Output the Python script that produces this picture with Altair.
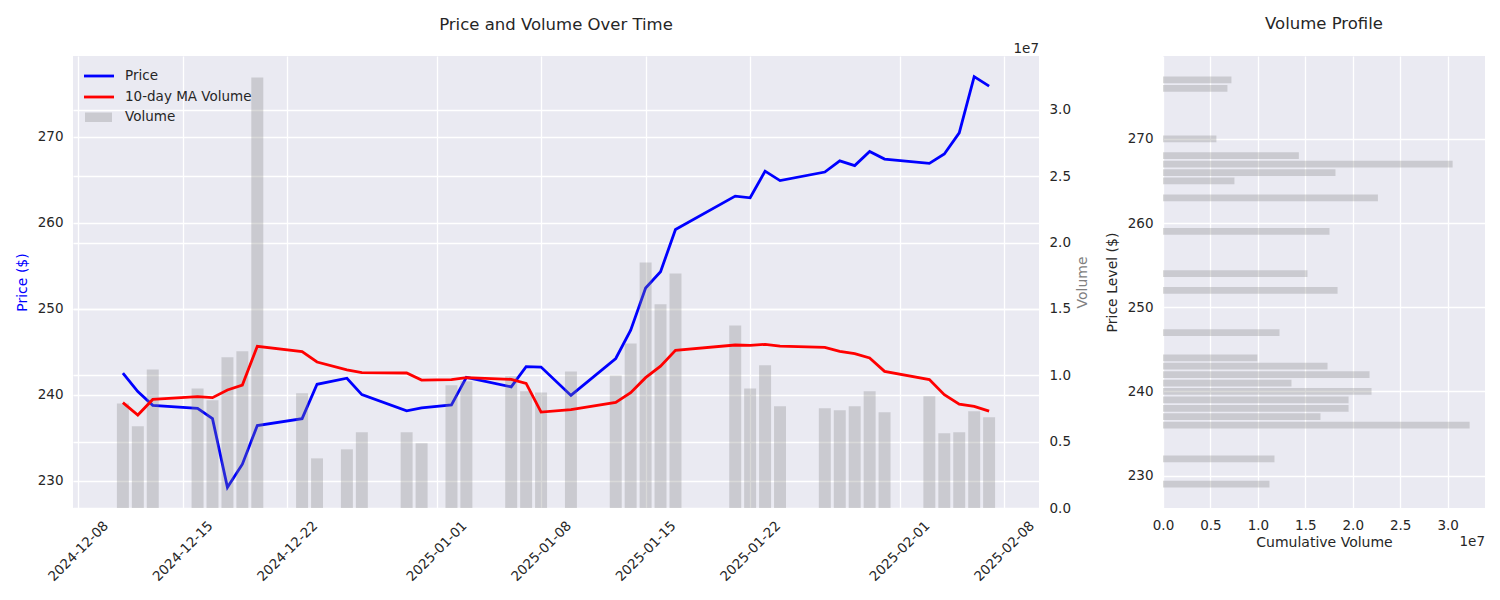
import altair as alt
import pandas as pd

# ---------------- data ----------------
dates = ["2024-12-11", "2024-12-12", "2024-12-13", "2024-12-16", "2024-12-17",
         "2024-12-18", "2024-12-19", "2024-12-20", "2024-12-23", "2024-12-24",
         "2024-12-26", "2024-12-27", "2024-12-30", "2024-12-31", "2025-01-02",
         "2025-01-03", "2025-01-06", "2025-01-07", "2025-01-08", "2025-01-10",
         "2025-01-13", "2025-01-14", "2025-01-15", "2025-01-16", "2025-01-17",
         "2025-01-21", "2025-01-22", "2025-01-23", "2025-01-24", "2025-01-27",
         "2025-01-28", "2025-01-29", "2025-01-30", "2025-01-31", "2025-02-03",
         "2025-02-04", "2025-02-05", "2025-02-06", "2025-02-07"]
price = [242.5, 240.35, 238.75, 238.4, 237.2, 229.2, 231.9, 236.4, 237.2, 241.2,
         241.9, 240.0, 238.1, 238.45, 238.8, 242.0, 240.9, 243.25, 243.2, 239.9,
         244.2, 247.5, 252.4, 254.3, 259.2, 263.1, 262.9, 266.0, 264.9, 265.9,
         267.2, 266.65, 268.3, 267.4, 266.9, 268.0, 270.45, 277.0, 275.9]
volume_m = [7.88, 6.15, 10.44, 9.01, 8.11, 11.35, 11.80, 32.43, 8.64, 3.74,
            4.42, 5.70, 5.70, 4.87, 9.24, 9.54, 9.92, 8.79, 8.71, 10.29,
            9.99, 12.40, 18.50, 15.34, 17.67, 13.75, 9.01, 10.75, 7.66, 7.51,
            7.36, 7.66, 8.79, 7.21, 8.41, 5.63, 5.70, 7.28, 6.83]
ma_volume_m = [7.94, 7.00, 8.18, 8.39, 8.31, 8.89, 9.26, 12.18, 11.78, 11.00,
               10.40, 10.20, 10.17, 9.64, 9.67, 9.82, 9.69, 9.39, 7.23, 7.41,
               7.96, 8.69, 9.82, 10.69, 11.88, 12.28, 12.25, 12.33, 12.20, 12.10,
               11.80, 11.63, 11.30, 10.29, 9.67, 8.54, 7.83, 7.66, 7.30]

profile_levels = [277, 276, 270, 268, 267, 266, 265, 263, 259, 254, 252, 247,
                  244, 243, 242, 241, 240, 239, 238, 237, 236, 232, 229]
profile_volume_m = [7.21, 6.79, 5.63, 14.32, 30.53, 18.18, 7.53, 22.65, 17.55,
                    15.23, 18.40, 12.28, 9.95, 17.34, 21.77, 13.54, 21.98, 19.56,
                    19.56, 16.60, 32.32, 11.75, 11.22]

date_ticks = [(2024, 12, 8), (2024, 12, 15), (2024, 12, 22), (2025, 1, 1),
              (2025, 1, 8), (2025, 1, 15), (2025, 1, 22), (2025, 2, 1), (2025, 2, 8)]
price_ticks = [230, 240, 250, 260, 270]
volume_ticks = [0, 5e6, 1e7, 1.5e7, 2e7, 2.5e7, 3e7]

# ---------------- styling ----------------
FONT = "DejaVu Sans"
TEXT = "#262626"
BG = "#EAEAF2"
BAR = "gray"
W_LEFT, W_RIGHT, H = 966, 322, 452
LW = 2.8
FS_TICK = 13.5

# ---------------- tables ----------------
ts = pd.to_datetime(dates)
fmt = "%Y-%m-%dT%H:%M:%SZ"
df = pd.DataFrame({
    "date": [t.strftime(fmt) for t in ts],
    "start": [(t - pd.Timedelta(hours=9.6)).strftime(fmt) for t in ts],
    "end": [(t + pd.Timedelta(hours=9.6)).strftime(fmt) for t in ts],
    "price": price,
    "volume": [v * 1e6 for v in volume_m],
    "ma": [v * 1e6 for v in ma_volume_m],
    "zero": [0.0] * len(dates),
})

prof = pd.DataFrame({
    "level": profile_levels,
    "cum": [v * 1e6 for v in profile_volume_m],
})
prof["lo"] = prof["level"] - 0.4
prof["hi"] = prof["level"] + 0.4
prof["zero"] = 0.0

x_scale = alt.Scale(
    type="utc", nice=False,
    domain=[alt.DateTime(year=2024, month=12, date=7, hours=15, minutes=50, utc=True),
            alt.DateTime(year=2025, month=2, date=10, hours=8, minutes=10, utc=True)])
x_axis = alt.Axis(
    values=[alt.DateTime(year=y, month=m, date=d, utc=True) for (y, m, d) in date_ticks],
    labelExpr="utcFormat(datum.value, '%Y-%m-%d')",
    labelAngle=-45, labelAlign="center", labelBaseline="middle",
    labelPadding=43, labelFlush=False, labelOverlap=False, title=None,
    grid=True)


def xenc(field):
    return alt.X(f"{field}:T", scale=x_scale, axis=x_axis)


price_line = alt.Chart(df).mark_line(color="blue", strokeWidth=LW).encode(
    x=xenc("date"),
    y=alt.Y("price:Q",
            scale=alt.Scale(domain=[226.8, 279.4], nice=False, zero=False),
            axis=alt.Axis(orient="left", values=price_ticks, title="Price ($)",
                          titleColor="blue", grid=True, titlePadding=8)),
)

vol_scale = alt.Scale(domain=[0, 3.405e7], nice=False)
vol_axis = alt.Axis(orient="right", values=volume_ticks, title="Volume",
                    titleColor="gray", titleAngle=270, titleBaseline="top",
                    grid=True, labelExpr="format(datum.value / 1e7, '.1f')",
                    titlePadding=5)

vol_bars = alt.Chart(df).mark_rect(color=BAR, opacity=0.3).encode(
    x=xenc("start"), x2="end:T",
    y=alt.Y("volume:Q", scale=vol_scale, axis=vol_axis), y2="zero:Q",
)
ma_line = alt.Chart(df).mark_line(color="red", strokeWidth=LW).encode(
    x=xenc("date"),
    y=alt.Y("ma:Q", scale=vol_scale, axis=vol_axis),
)

one = alt.Data(values=[{"k": 1}])
leg_price = alt.Chart(one).mark_rule(color="blue", strokeWidth=LW).encode(
    x=alt.value(11), x2=alt.value(41), y=alt.value(20))
leg_ma = alt.Chart(one).mark_rule(color="red", strokeWidth=LW).encode(
    x=alt.value(11), x2=alt.value(41), y=alt.value(41))
leg_vol = alt.Chart(one).mark_rect(color=BAR, opacity=0.3).encode(
    x=alt.value(12), x2=alt.value(39), y=alt.value(56.5), y2=alt.value(66))
leg_text_style = dict(align="left", baseline="middle", font=FONT, fontSize=FS_TICK, color=TEXT)
leg_t1 = alt.Chart(one).mark_text(text="Price", **leg_text_style).encode(
    x=alt.value(52), y=alt.value(20))
leg_t2 = alt.Chart(one).mark_text(text="10-day MA Volume", **leg_text_style).encode(
    x=alt.value(52), y=alt.value(41))
leg_t3 = alt.Chart(one).mark_text(text="Volume", **leg_text_style).encode(
    x=alt.value(52), y=alt.value(61))
exp_left = alt.Chart(one).mark_text(text="1e7", align="right", baseline="middle",
                                    font=FONT, fontSize=FS_TICK, color=TEXT).encode(
    x=alt.value(W_LEFT), y=alt.value(-7))

vol_layer = alt.layer(vol_bars, ma_line, leg_price, leg_ma, leg_vol,
                      leg_t1, leg_t2, leg_t3, exp_left)

left = alt.layer(price_line, vol_layer).resolve_scale(y="independent").properties(
    width=W_LEFT, height=H,
    title=alt.Title("Price and Volume Over Time", offset=9),
)

prof_x_scale = alt.Scale(domain=[0, 3.394e7], nice=False)
prof_bars = alt.Chart(prof).mark_rect(color=BAR, opacity=0.3).encode(
    x=alt.X("cum:Q", scale=prof_x_scale,
            axis=alt.Axis(values=volume_ticks, title="Cumulative Volume",
                          labelExpr="format(datum.value / 1e7, '.1f')",
                          grid=True, labelFlush=False, titlePadding=4)),
    x2="zero:Q",
    y=alt.Y("lo:Q", scale=alt.Scale(domain=[226.16, 279.84], nice=False, zero=False),
            axis=alt.Axis(values=price_ticks, title="Price Level ($)", grid=True,
                          titlePadding=8)),
    y2="hi:Q",
)
exp_right = alt.Chart(one).mark_text(text="1e7", align="right", baseline="middle",
                                     font=FONT, fontSize=FS_TICK, color=TEXT).encode(
    x=alt.value(W_RIGHT), y=alt.value(H + 34))

right = alt.layer(prof_bars, exp_right).properties(
    width=W_RIGHT, height=H,
    title=alt.Title("Volume Profile", offset=24),
)

chart = alt.hconcat(left, right, spacing=15).properties(
    padding={"left": 7, "top": 7, "right": 5, "bottom": 5}
).configure_view(
    fill=BG, stroke=None
).configure_axis(
    gridColor="white", gridWidth=1.3, domain=False, ticks=False, tickSize=0,
    labelFont=FONT, labelFontSize=FS_TICK, labelColor=TEXT, labelPadding=10,
    titleFont=FONT, titleFontSize=14, titleFontWeight="normal", titleColor=TEXT,
).configure_title(
    font=FONT, fontSize=16.5, fontWeight="normal", color=TEXT, anchor="middle",
    frame="group",
).configure_text(font=FONT)

chart.save("out.html", embed_options={"renderer": "svg", "actions": False})
